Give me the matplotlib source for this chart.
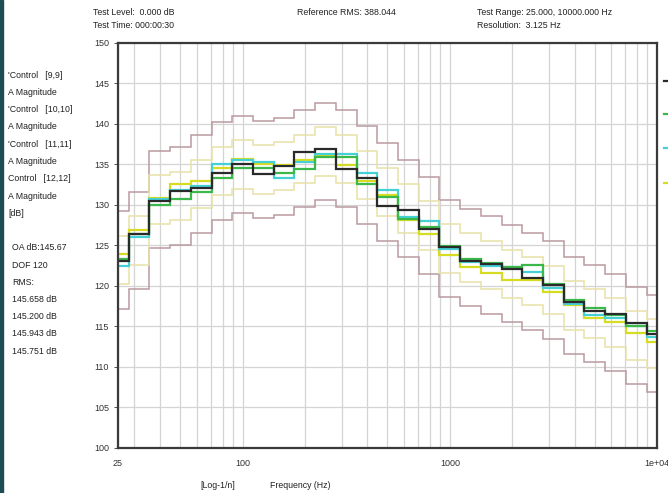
import numpy as np
import matplotlib
matplotlib.use("Agg")
import matplotlib.pyplot as plt
from matplotlib.ticker import FixedLocator, NullFormatter

plt.rcParams['font.family'] = ['Liberation Sans', 'DejaVu Sans']

# 1/3 octave bands, 25 Hz .. 10 kHz
band_hz = [25, 31.5, 40, 50, 63, 80, 100, 125, 160, 200, 250, 315, 400, 500,
           630, 800, 1000, 1250, 1600, 2000, 2500, 3150, 4000, 5000, 6300,
           8000, 10000]

# reference profile (dB), tolerances drawn around it
reference = [123.2, 125.6, 130.7, 131.1, 132.6, 134.2, 135.0, 134.4, 134.8,
             135.7, 136.6, 135.7, 133.7, 131.6, 129.6, 127.5, 124.6, 123.5,
             122.6, 121.5, 120.6, 119.5, 117.6, 116.6, 115.5, 113.9, 112.9]
alarm_db = 3
abort_db = 6

# control channels
ctrl_9 = [123.1, 126.4, 130.5, 131.7, 132.1, 134.0, 135.1, 133.8, 134.8,
          136.5, 136.9, 134.5, 133.3, 129.9, 129.4, 127.0, 124.8, 123.1,
          122.7, 122.1, 121.0, 120.1, 118.0, 116.9, 116.6, 115.4, 114.1]
ctrl_10 = [123.3, 126.4, 130.0, 130.7, 131.6, 133.3, 134.6, 134.6, 133.9,
           134.5, 135.9, 135.9, 132.6, 131.0, 128.3, 127.3, 124.9, 123.3,
           122.8, 122.3, 122.6, 120.3, 118.3, 117.3, 116.4, 115.0, 114.5]
ctrl_11 = [122.5, 126.1, 130.8, 131.9, 132.3, 135.0, 135.5, 135.3, 133.3,
           135.3, 136.3, 136.3, 134.0, 131.9, 128.5, 128.0, 124.6, 122.9,
           122.5, 122.3, 121.7, 119.8, 117.8, 116.4, 116.0, 115.0, 113.7]
ctrl_12 = [124.0, 126.9, 130.9, 132.6, 133.0, 134.6, 135.7, 135.0, 134.9,
           135.6, 136.1, 134.9, 133.0, 131.2, 128.1, 126.4, 123.8, 122.3,
           121.6, 120.7, 120.7, 119.2, 117.6, 116.0, 115.5, 114.2, 113.1]

series = [(ctrl_12, '#d6dc22'), (ctrl_11, '#45d0d6'),
          (ctrl_10, '#3cb84a'), (ctrl_9, '#2a2a2a')]

ref = np.array(reference)
k = np.round(10 * np.log10(band_hz)).astype(int)
edges = 10 ** ((np.append(k, k[-1] + 1) - 0.5) / 10)
edges[0], edges[-1] = 25, 10000

fig = plt.figure(figsize=(6.68, 4.93), dpi=100)
ax = fig.add_axes([0.1766, 0.0913, 0.8069, 0.8215])

ax.set_xscale('log')
ax.set_xlim(25, 10000)
ax.set_ylim(100, 150)

ax.xaxis.set_major_locator(FixedLocator([25, 100, 1000, 10000]))
ax.set_xticklabels(['25', '100', '1000', '1e+04'])
ax.xaxis.set_minor_locator(FixedLocator(
    [m * 10 ** d for d in range(1, 4) for m in range(2, 10)]))
ax.xaxis.set_minor_formatter(NullFormatter())
ax.set_yticks(np.arange(100, 151, 5))
ax.tick_params(axis='both', labelsize=6.5, colors='#333', length=3, width=0.6)
ax.tick_params(axis='x', which='minor', length=0)
ax.tick_params(axis='x', which='major', length=0, pad=8)

ax.grid(True, which='both', axis='x', color='#d4d4d4', lw=0.9)
ax.grid(True, which='major', axis='y', color='#d4d4d4', lw=0.9)
ax.set_axisbelow(True)
for s in ax.spines.values():
    s.set_color('#3a3a3a')
    s.set_linewidth(1.6)

# abort and alarm limits
ax.stairs(ref + abort_db, edges, color='#b99aa0', lw=1.1, baseline=None)
ax.stairs(ref - abort_db, edges, color='#b99aa0', lw=1.1, baseline=None)
ax.stairs(ref + alarm_db, edges, color='#e8e2a8', lw=1.1, baseline=None)
ax.stairs(ref - alarm_db, edges, color='#e8e2a8', lw=1.1, baseline=None)

for vals, col in series:
    ax.stairs(vals, edges, color=col, lw=1.6, baseline=None)

# header
hdr = dict(fontsize=6.3, color='#222', va='center')
fig.text(0.139, 0.975, 'Test Level:  0.000 dB', **hdr)
fig.text(0.139, 0.949, 'Test Time: 000:00:30', **hdr)
fig.text(0.445, 0.975, 'Reference RMS: 388.044', **hdr)
fig.text(0.714, 0.975, 'Test Range: 25.000, 10000.000 Hz', **hdr)
fig.text(0.714, 0.949, 'Resolution:  3.125 Hz', **hdr)

# left info panel
side = ["'Control   [9,9]", 'A Magnitude', "'Control   [10,10]", 'A Magnitude',
        "'Control   [11,11]", 'A Magnitude', 'Control   [12,12]', 'A Magnitude',
        '[dB]']
for i, t in enumerate(side):
    fig.text(0.012, 1 - (75 + i * 17.3) / 493, t, **hdr)
stats = ['OA dB:145.67', 'DOF 120', 'RMS:', '145.658 dB', '145.200 dB',
         '145.943 dB', '145.751 dB']
for i, t in enumerate(stats):
    fig.text(0.018, 1 - (248 + i * 17.2) / 493, t, **hdr)

fig.text(0.30, 0.016, '[Log-1/n]', **hdr)
fig.text(0.404, 0.016, 'Frequency (Hz)', **hdr)

# legend stubs cut off at the right edge
for (vals, col), y in zip(series[::-1], [81, 114, 148, 183]):
    fig.add_artist(plt.Line2D([664 / 668, 1.0], [1 - y / 493] * 2,
                              color=col, lw=1.6, transform=fig.transFigure))

# window frame strip on the left
fig.add_artist(plt.Rectangle((0, 0), 3 / 668, 1, color='#1d4c55',
                             transform=fig.transFigure))

fig.savefig('out.png', dpi=100)
